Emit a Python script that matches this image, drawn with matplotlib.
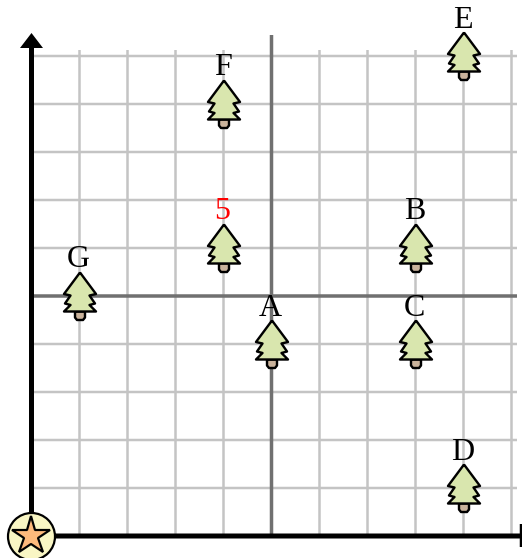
import matplotlib
matplotlib.use('Agg')
import matplotlib.pyplot as plt
import numpy as np
from matplotlib.path import Path

# tree positions in grid units
labels = ['A', 'B', 'C', 'D', 'E', 'F', 'G', '5']
tree_x = [5, 8, 8, 9, 9, 4, 1, 4]
tree_y = [4, 6, 4, 1, 10, 9, 5, 6]
label_colors = ['black'] * 7 + ['red']

grid_x = np.arange(1, 11)
grid_y = np.arange(1, 11)

W, H = 522, 558
DPI = 100
UNIT = 48.0
X0, Y0 = 31.5, 536.0  # pixel position of the origin
PT = 72.0 / DPI  # one pixel in points

fig = plt.figure(figsize=(W / DPI, H / DPI), dpi=DPI)
ax = fig.add_axes([0, 0, 1, 1])
ax.set_xlim(-X0 / UNIT, (W - X0) / UNIT)
ax.set_ylim((Y0 - H) / UNIT, Y0 / UNIT)
ax.axis('off')

x_top = (Y0 - 50) / UNIT
y_right = (517 - X0) / UNIT

# grid
for v in grid_x:
    if v != 5:
        ax.plot([v, v], [0, x_top], color='#c4c4c4', lw=2.5 * PT, solid_capstyle='butt', zorder=1, snap=False)
for v in grid_y:
    if v != 5:
        ax.plot([0, y_right], [v, v], color='#c4c4c4', lw=2.5 * PT, solid_capstyle='butt', zorder=1, snap=False)

# darker centre lines
ax.plot([5, 5], [0, (Y0 - 35) / UNIT], color='#707070', lw=3.5 * PT, solid_capstyle='butt', zorder=2, snap=False)
ax.plot([0, y_right], [5, 5], color='#707070', lw=3.5 * PT, solid_capstyle='butt', zorder=2, snap=False)

# axes lines
ax.plot([0, (W - X0) / UNIT], [0, 0], color='black', lw=5 * PT, solid_capstyle='butt', zorder=3, snap=False)
ax.plot([0, 0], [0, (Y0 - 46) / UNIT], color='black', lw=5 * PT, solid_capstyle='butt', zorder=3, snap=False)
ax.plot([(521 - X0) / UNIT] * 2, [-11 / UNIT, 12 / UNIT], color='black', lw=2.5 * PT, solid_capstyle='butt',
        zorder=3, snap=False)
ax.fill([-11.5 / UNIT, 11.5 / UNIT, 0], [(Y0 - 48) / UNIT, (Y0 - 48) / UNIT, (Y0 - 33) / UNIT],
        color='black', lw=0, zorder=3)

# tree shapes, pixels around the tree centre, y up
foliage = [(0, 24), (16, 2.5), (9.5, 1), (15, -7), (9.5, -8.5), (16, -15),
           (-16, -15), (-9.5, -8.5), (-15, -7), (-9.5, 1), (-16, 2.5), (0, 24)]
trunk = [(-5, -15), (5, -15), (5, -21), (3, -23.5), (-3, -23.5), (-5, -21), (-5, -15)]
# markers land half a pixel right, nudge the outlines back
foliage = [(a - 0.5, b) for a, b in foliage]
trunk = [(a - 0.5, b) for a, b in trunk]
# extra point keeps both markers on the same scale (max abs = 24)
scale = 24.0
foliage_marker = Path(foliage)
trunk_verts = trunk + [(0, 24)]
trunk_codes = [Path.MOVETO] + [Path.LINETO] * (len(trunk) - 1) + [Path.MOVETO]
trunk_marker = Path(trunk_verts, trunk_codes)
ms = 2 * scale * PT

ax.plot(tree_x, tree_y, ls='', marker=trunk_marker, ms=ms, mfc='#c9b29b', mec='black', mew=2.4 * PT, zorder=4, snap=False)
ax.plot(tree_x, tree_y, ls='', marker=foliage_marker, ms=ms, mfc='#d9e6ae', mec='black', mew=2.4 * PT, zorder=5, snap=False)

for name, x, y, c in zip(labels, tree_x, tree_y, label_colors):
    ax.annotate(name, (x, y), xytext=(-1, 28.5), textcoords='offset pixels', ha='center', va='baseline',
                fontsize=32 * PT, family='Liberation Serif', color=c, zorder=6)

# badge at origin
ax.plot([0], [0], marker='o', ms=47 * PT, mfc='#f9f6c4', mec='black', mew=2.2 * PT, ls='', zorder=7, snap=False)
ax.plot([0], [0], marker='*', ms=40 * PT, mfc='#fdba7c', mec='black', mew=2.2 * PT, ls='', zorder=8, snap=False)

fig.savefig('out.png', dpi=DPI)
